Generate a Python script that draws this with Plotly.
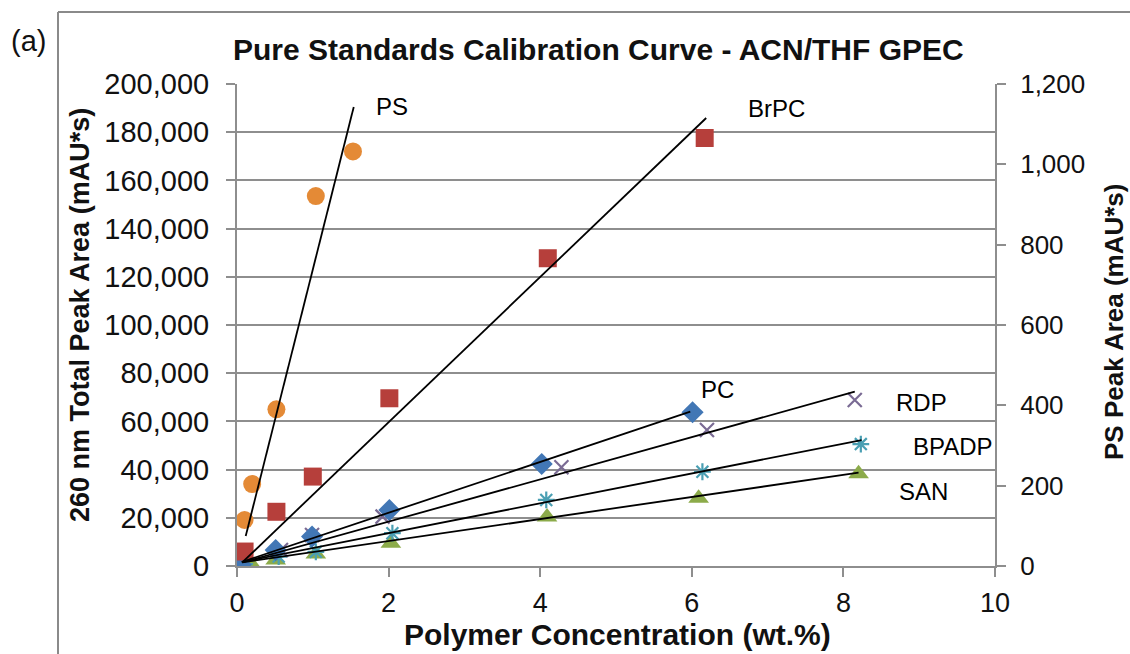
import plotly.graph_objects as go

# Concentrations (wt.%) and peak areas for each pure standard
ps_x = [0.10, 0.20, 0.52, 1.04, 1.53]
ps_y = [114.5, 204, 390, 921, 1032]          # PS peak area, right axis (mAU*s)

brpc_x = [0.10, 0.52, 1.00, 2.01, 4.10, 6.17]
brpc_y = [6000, 22500, 37100, 69600, 127700, 177600]

pc_x = [0.05, 0.51, 0.99, 2.01, 4.02, 6.01]
pc_y = [500, 6600, 12200, 23200, 42300, 63800]

rdp_x = [0.09, 0.58, 0.99, 1.92, 4.28, 6.20, 8.15]
rdp_y = [1200, 6600, 12900, 20500, 41000, 56400, 68900]

bpadp_x = [0.10, 0.55, 1.04, 2.05, 4.08, 6.14, 8.23]
bpadp_y = [800, 3900, 5900, 13600, 27400, 39100, 50600]

san_x = [0.18, 0.51, 1.04, 2.03, 4.09, 6.09, 8.20]
san_y = [1100, 2500, 5000, 9400, 20300, 28100, 38300]

# Linear trendline end points (x, y)
ps_fit_x, ps_fit_y = [0.115, 1.54], [74.7, 1142.8]
brpc_fit_x, brpc_fit_y = [0.08, 6.19], [1800, 185900]
pc_fit_x, pc_fit_y = [0.06, 5.98], [1660, 64020]
rdp_fit_x, rdp_fit_y = [0.07, 8.15], [1500, 72320]
bpadp_fit_x, bpadp_fit_y = [0.07, 8.24], [1700, 52280]
san_fit_x, san_fit_y = [0.07, 8.20], [1500, 38700]

# Series labels and their positions
labels = ["PS", "BrPC", "PC", "RDP", "BPADP", "SAN"]
label_x = [2.04, 7.12, 6.34, 9.03, 9.44, 9.06]
label_y = [190460, 190040, 73440, 68050, 49790, 31120]

x_ticks = [0, 2, 4, 6, 8, 10]
left_ticks = list(range(0, 200001, 20000))
right_ticks = list(range(0, 1201, 200))

FONT = "Liberation Sans, Arial, sans-serif"
GRID = "#8e8e8e"
INK = "#111111"

fig = go.Figure()

def add_points(x, y, symbol, color, size, yaxis="y", line_w=0, open_sym=False):
    marker = dict(symbol=symbol, size=size, color=color)
    if open_sym:
        marker["line"] = dict(color=color, width=line_w)
    else:
        marker["line"] = dict(width=0)
    fig.add_trace(go.Scatter(x=x, y=y, mode="markers", marker=marker,
                             yaxis=yaxis, showlegend=False, hoverinfo="x+y"))

def add_fit(x, y, yaxis="y"):
    fig.add_trace(go.Scatter(x=x, y=y, mode="lines",
                             line=dict(color="black", width=1.8),
                             yaxis=yaxis, showlegend=False, hoverinfo="skip"))

add_points(san_x, san_y, "triangle-up", "#8cab4a", 18)
add_points(bpadp_x, bpadp_y, "asterisk-open", "#4a9fb3", 14, line_w=2.2, open_sym=True)
add_points(rdp_x, rdp_y, "x-thin-open", "#7a6b94", 14, line_w=2.2, open_sym=True)
add_points(pc_x, pc_y, "diamond", "#4277b5", 17)
add_points(brpc_x, brpc_y, "square", "#b63f3b", 18)
add_points(ps_x, ps_y, "circle", "#e48a36", 18, yaxis="y2")

add_fit(san_fit_x, san_fit_y)
add_fit(bpadp_fit_x, bpadp_fit_y)
add_fit(rdp_fit_x, rdp_fit_y)
add_fit(pc_fit_x, pc_fit_y)
add_fit(brpc_fit_x, brpc_fit_y)
add_fit(ps_fit_x, ps_fit_y, yaxis="y2")

for t, lx, ly in zip(labels, label_x, label_y):
    fig.add_annotation(x=lx, y=ly, xref="x", yref="y", text=t, showarrow=False,
                       xanchor="center", yanchor="middle",
                       font=dict(family=FONT, size=24, color="black"))

W, H = 1130, 654
L, R, T, B = 237, 135, 84, 88
pw, ph = W - L - R, H - T - B

def px(x):
    return (x - L) / pw

def py(y):
    return (H - B - y) / ph

def paper_text(x, y, text, size, angle=0):
    fig.add_annotation(x=px(x), y=py(y), xref="paper", yref="paper",
                       text=text, showarrow=False, textangle=angle,
                       xanchor="center", yanchor="middle",
                       font=dict(family=FONT, size=size, color=INK))

# Axis titles, chart title and figure tag
paper_text(617, 634, "<b>Polymer Concentration (wt.%)</b>", 30)
paper_text(80, 315, "<b>260 nm Total Peak Area (mAU*s)</b>", 27)
fig.layout.annotations[-1].textangle = -90
paper_text(1114, 322, "<b>PS Peak Area (mAU*s)</b>", 26, angle=-90)
paper_text(598, 49, "<b>Pure Standards Calibration Curve - ACN/THF GPEC</b>", 30)
paper_text(28, 41, "(a)", 29)

# Outer chart frame (top and left edges)
fig.add_shape(type="line", xref="paper", yref="paper",
              x0=px(58), y0=py(12), x1=px(W + 5), y1=py(12),
              line=dict(color="#8a8a8a", width=2))
fig.add_shape(type="line", xref="paper", yref="paper",
              x0=px(58), y0=py(12), x1=px(58), y1=py(H + 5),
              line=dict(color="#8a8a8a", width=2))

axis_common = dict(showline=True, linecolor=GRID, linewidth=2, ticks="outside",
                   ticklen=9, tickwidth=2, tickcolor=GRID, zeroline=False)

fig.update_layout(
    width=W, height=H,
    margin=dict(l=L, r=R, t=T, b=B, pad=0),
    paper_bgcolor="white", plot_bgcolor="white",
    xaxis=dict(range=[0, 10], tickvals=x_ticks, ticktext=[str(v) for v in x_ticks],
               showgrid=False, tickfont=dict(family=FONT, size=27, color=INK),
               ticklabelstandoff=3, **axis_common),
    yaxis=dict(range=[0, 200000], tickvals=left_ticks,
               ticktext=[f"{v:,}" for v in left_ticks],
               showgrid=True, gridcolor=GRID, gridwidth=2,
               tickfont=dict(family=FONT, size=29, color=INK),
               ticklabelstandoff=11, **axis_common),
    yaxis2=dict(range=[0, 1200], tickvals=right_ticks,
                ticktext=[f"{v:,}" for v in right_ticks],
                overlaying="y", side="right", showgrid=False,
                tickfont=dict(family=FONT, size=26, color=INK),
                ticklabelstandoff=9, **axis_common),
)

fig.write_html("out.html")
